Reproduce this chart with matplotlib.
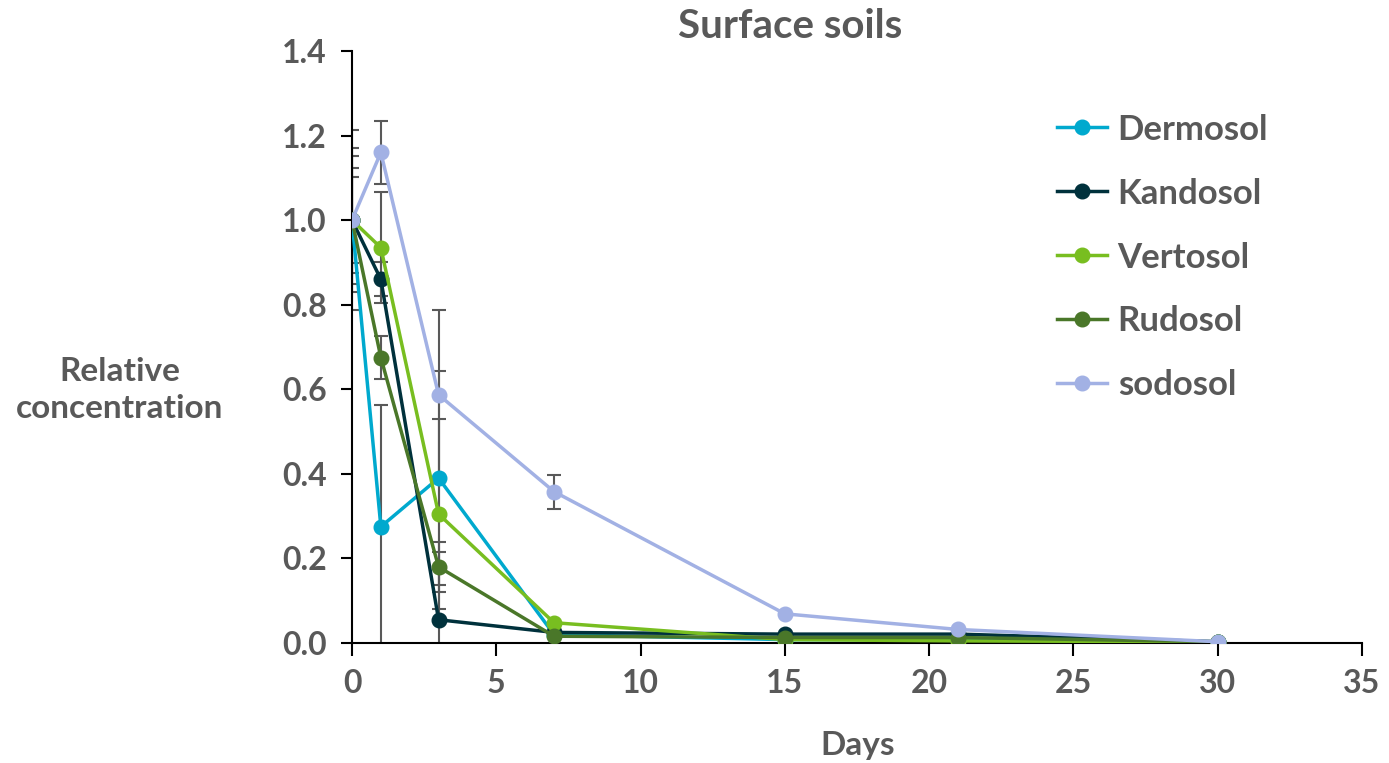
import matplotlib
matplotlib.use("Agg")
import matplotlib.pyplot as plt
import numpy as np

days = [0, 1, 3, 7, 15, 21, 30]
series_names = ["Dermosol", "Kandosol", "Vertosol", "Rudosol", "sodosol"]
dermosol = [1.0, 0.275, 0.39, 0.02, 0.008, 0.008, 0.003]
kandosol = [1.0, 0.86, 0.055, 0.025, 0.021, 0.021, 0.003]
vertosol = [1.0, 0.935, 0.305, 0.048, 0.008, 0.005, 0.003]
rudosol = [1.0, 0.675, 0.18, 0.016, 0.013, 0.013, 0.003]
sodosol = [1.0, 1.16, 0.587, 0.358, 0.069, 0.032, 0.003]

err_dermosol = [0.212, 0.287, 0.253, 0, 0, 0, 0]
err_kandosol = [0.170, 0.040, 0.161, 0, 0, 0, 0]
err_vertosol = [0.151, 0.131, 0.224, 0, 0, 0, 0]
err_rudosol = [0.124, 0.051, 0.060, 0, 0, 0, 0]
err_sodosol = [0.101, 0.075, 0.200, 0.040, 0, 0, 0]

colors = ["#00A9CE", "#00313C", "#78BE20", "#4A7729", "#A2B1E4"]
values = [dermosol, kandosol, vertosol, rudosol, sodosol]
errors = [err_dermosol, err_kandosol, err_vertosol, err_rudosol, err_sodosol]

gray = "#595959"
plt.rcParams['font.family'] = ['Lato', 'DejaVu Sans']

fig = plt.figure(figsize=(13.89, 7.63), dpi=100)
ax = fig.add_axes([352/1389, 1-643/763, (1362-352)/1389, (643-51)/763])

for name, vals, errs, c in zip(series_names, values, errors, colors):
    xs = [d for d, e in zip(days, errs) if e > 0]
    ys = [v for v, e in zip(vals, errs) if e > 0]
    es = [e for e in errs if e > 0]
    ax.errorbar(xs, ys, yerr=es, fmt='none', ecolor=gray, elinewidth=1.5,
                capsize=5, capthick=1.5, zorder=2)

for name, vals, c in zip(series_names, values, colors):
    ax.plot(days, vals, color=c, lw=2.5, marker='o', markersize=10.5,
            label=name, zorder=3)

ax.set_xlim(0, 35)
ax.set_ylim(0, 1.4)
ax.set_xticks(np.arange(0, 36, 5))
ax.set_yticks(np.arange(0, 1.41, 0.2))
ax.set_yticklabels([f"{v:.1f}" for v in np.arange(0, 1.41, 0.2)])
for s in ["top", "right"]:
    ax.spines[s].set_visible(False)
for s in ["left", "bottom"]:
    ax.spines[s].set_linewidth(1.5)
    ax.spines[s].set_color("black")
ax.tick_params(axis='y', direction='out', length=8, width=1.5, color='black',
               labelsize=23, labelcolor=gray, pad=10)
ax.tick_params(axis='x', direction='out', length=9, width=1.5, color='black',
               labelsize=23, labelcolor=gray, pad=10)
for lab in ax.get_xticklabels() + ax.get_yticklabels():
    lab.set_fontweight('bold')

fig.text(790/1389, 1-27/763, "Surface soils", fontsize=29, fontweight='bold',
         color=gray, ha='center', va='center')
fig.text(858/1389, 1-745/763, "Days", fontsize=24, fontweight='bold',
         color=gray, ha='center', va='center')
fig.text(120/1389, 1-390/763, "Relative\nconcentration", fontsize=24,
         fontweight='bold', color=gray, ha='center', va='center', linespacing=1.35)

leg = ax.legend(loc='upper left', bbox_to_anchor=(0.667, 0.947), frameon=False,
                fontsize=25, labelspacing=0.92, handlelength=1.45, handletextpad=0.3)
for t in leg.get_texts():
    t.set_fontweight('bold')
    t.set_color(gray)

fig.savefig("out.png", dpi=100)
